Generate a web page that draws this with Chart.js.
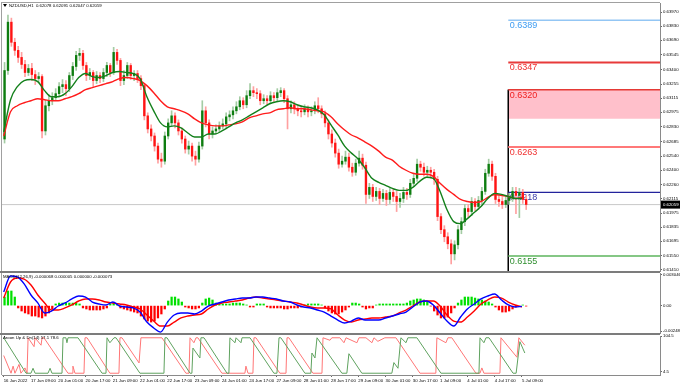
<!DOCTYPE html>
<html>
<head>
<meta charset="utf-8">
<script src="https://cdn.jsdelivr.net/npm/chart.js@4.4.1/dist/chart.umd.min.js"></script>
<style>
  html, body { margin: 0; padding: 0; background: #fff; }
  #wrap { position: relative; width: 680px; height: 385px; overflow: hidden; }
  canvas { position: absolute; left: 0; }
</style>
</head>
<body>
<div id="wrap">
  <canvas id="main" width="680" height="272" style="top:0px"></canvas>
  <canvas id="macd" width="680" height="62" style="top:272px"></canvas>
  <canvas id="aroon" width="680" height="51" style="top:334px"></canvas>
</div>
<script>
// NZDUSD H1, one candle per two hours
const open = [0.6271,0.6339,0.6387,0.6367,0.6359,0.6352,0.6345,0.6337,0.6341,0.6335,
  0.6331,0.6333,0.6279,0.6304,0.6309,0.6312,0.6316,0.6323,0.6325,0.6321,
  0.6334,0.6343,0.6354,0.6356,0.6344,0.6334,0.6337,0.6329,0.6334,0.6331,
  0.6337,0.6344,0.6337,0.6357,0.6349,0.6329,0.6334,0.6344,0.6334,0.6336,
  0.6331,0.6324,0.6294,0.6281,0.6274,0.6264,0.6251,0.6249,0.6274,0.6287,
  0.6294,0.6287,0.6279,0.6271,0.6261,0.6264,0.6254,0.6251,0.6264,0.6299,
  0.6287,0.6276,0.6279,0.6281,0.6284,0.6286,0.6293,0.6295,0.6299,0.6303,
  0.6309,0.6305,0.6314,0.6319,0.6317,0.6316,0.6309,0.6311,0.6309,0.6314,
  0.6312,0.6317,0.6319,0.6311,0.6301,0.6305,0.6301,0.6299,0.6298,0.6301,
  0.6298,0.6299,0.6304,0.6301,0.6296,0.6287,0.6276,0.6267,0.6257,0.6246,
  0.6249,0.6253,0.6243,0.6238,0.6247,0.6252,0.6245,0.6216,0.6223,0.6214,
  0.6219,0.6212,0.6217,0.6211,0.6218,0.6214,0.6209,0.6212,0.6218,0.6216,
  0.6227,0.6232,0.6246,0.6243,0.6238,0.6240,0.6238,0.6231,0.6194,0.6181,
  0.6174,0.6167,0.6157,0.6166,0.6181,0.6189,0.6202,0.6199,0.6209,0.6204,
  0.6210,0.6219,0.6237,0.6246,0.6234,0.6211,0.6209,0.6206,0.6210,0.6213,
  0.6219,0.6215,0.6218,0.6211];
const high = [0.6347,0.6394,0.6391,0.6371,0.6363,0.6357,0.6349,0.6345,0.6346,0.6339,
  0.6337,0.6335,0.6309,0.6315,0.6317,0.6321,0.6327,0.6330,0.6329,0.6337,
  0.6347,0.6358,0.6361,0.6359,0.6347,0.6341,0.6339,0.6338,0.6337,0.6341,
  0.6347,0.6346,0.6362,0.6360,0.6351,0.6339,0.6347,0.6346,0.6339,0.6339,
  0.6334,0.6326,0.6297,0.6285,0.6277,0.6267,0.6257,0.6278,0.6291,0.6299,
  0.6297,0.6290,0.6282,0.6274,0.6269,0.6267,0.6259,0.6268,0.6309,0.6303,
  0.6290,0.6283,0.6285,0.6288,0.6291,0.6297,0.6299,0.6303,0.6308,0.6313,
  0.6312,0.6319,0.6326,0.6323,0.6321,0.6319,0.6315,0.6314,0.6318,0.6317,
  0.6321,0.6322,0.6321,0.6314,0.6309,0.6308,0.6304,0.6303,0.6305,0.6304,
  0.6303,0.6308,0.6312,0.6304,0.6299,0.6290,0.6280,0.6271,0.6261,0.6254,
  0.6259,0.6257,0.6247,0.6251,0.6259,0.6256,0.6248,0.6227,0.6226,0.6223,
  0.6222,0.6221,0.6220,0.6222,0.6221,0.6219,0.6217,0.6223,0.6222,0.6231,
  0.6237,0.6251,0.6249,0.6247,0.6244,0.6243,0.6241,0.6234,0.6197,0.6185,
  0.6178,0.6171,0.6170,0.6185,0.6193,0.6206,0.6206,0.6213,0.6212,0.6214,
  0.6223,0.6241,0.6251,0.6249,0.6237,0.6215,0.6213,0.6214,0.6217,0.6223,
  0.6223,0.6222,0.6221,0.6215];
const low = [0.6267,0.6335,0.6363,0.6354,0.6347,0.6341,0.6333,0.6334,0.6329,0.6325,
  0.6327,0.6272,0.6275,0.6299,0.6305,0.6309,0.6313,0.6317,0.6314,0.6318,
  0.6330,0.6339,0.6349,0.6340,0.6329,0.6330,0.6323,0.6326,0.6327,0.6328,
  0.6333,0.6333,0.6335,0.6345,0.6324,0.6325,0.6331,0.6330,0.6329,0.6327,
  0.6320,0.6290,0.6277,0.6269,0.6259,0.6247,0.6243,0.6246,0.6271,0.6284,
  0.6282,0.6275,0.6267,0.6257,0.6256,0.6249,0.6245,0.6248,0.6261,0.6283,
  0.6271,0.6272,0.6276,0.6278,0.6281,0.6282,0.6289,0.6291,0.6296,0.6300,
  0.6301,0.6302,0.6311,0.6313,0.6311,0.6305,0.6306,0.6305,0.6306,0.6308,
  0.6309,0.6313,0.6307,0.6281,0.6297,0.6296,0.6294,0.6293,0.6295,0.6293,
  0.6294,0.6296,0.6297,0.6292,0.6283,0.6271,0.6263,0.6253,0.6242,0.6243,
  0.6246,0.6239,0.6234,0.6235,0.6244,0.6241,0.6207,0.6212,0.6209,0.6210,
  0.6206,0.6209,0.6205,0.6207,0.6209,0.6199,0.6203,0.6208,0.6211,0.6213,
  0.6224,0.6229,0.6239,0.6234,0.6233,0.6232,0.6226,0.6190,0.6177,0.6169,
  0.6162,0.6147,0.6151,0.6162,0.6177,0.6185,0.6194,0.6195,0.6200,0.6201,
  0.6206,0.6216,0.6234,0.6230,0.6207,0.6204,0.6202,0.6203,0.6206,0.6209,
  0.6197,0.6193,0.6207,0.6201];
const close = [0.6339,0.6387,0.6367,0.6359,0.6352,0.6345,0.6337,0.6341,0.6335,0.6331,
  0.6333,0.6279,0.6304,0.6309,0.6312,0.6316,0.6323,0.6325,0.6321,0.6334,
  0.6343,0.6354,0.6356,0.6344,0.6334,0.6337,0.6329,0.6334,0.6331,0.6337,
  0.6344,0.6337,0.6357,0.6349,0.6329,0.6334,0.6344,0.6334,0.6336,0.6331,
  0.6324,0.6294,0.6281,0.6274,0.6264,0.6251,0.6249,0.6274,0.6287,0.6294,
  0.6287,0.6279,0.6271,0.6261,0.6264,0.6254,0.6251,0.6264,0.6299,0.6287,
  0.6276,0.6279,0.6281,0.6284,0.6286,0.6293,0.6295,0.6299,0.6303,0.6309,
  0.6305,0.6314,0.6319,0.6317,0.6316,0.6309,0.6311,0.6309,0.6314,0.6312,
  0.6317,0.6319,0.6311,0.6301,0.6305,0.6301,0.6299,0.6298,0.6301,0.6298,
  0.6299,0.6304,0.6301,0.6296,0.6287,0.6276,0.6267,0.6257,0.6246,0.6249,
  0.6253,0.6243,0.6238,0.6247,0.6252,0.6245,0.6216,0.6223,0.6214,0.6219,
  0.6212,0.6217,0.6211,0.6218,0.6214,0.6209,0.6212,0.6218,0.6216,0.6227,
  0.6232,0.6246,0.6243,0.6238,0.6240,0.6238,0.6231,0.6194,0.6181,0.6174,
  0.6167,0.6157,0.6166,0.6181,0.6189,0.6202,0.6199,0.6209,0.6204,0.6210,
  0.6219,0.6237,0.6246,0.6234,0.6211,0.6209,0.6206,0.6210,0.6213,0.6219,
  0.6215,0.6218,0.6211,0.6206];

// moving averages, one value every 4 bars
const maFast = [0.6278,0.6310,0.6323,0.6329,0.6330,0.6328,0.6319,0.6313,0.6313,0.6316,
  0.6323,0.6332,0.6336,0.6333,0.6332,0.6334,0.6337,0.6338,0.6337,0.6336,
  0.6331,0.6313,0.6299,0.6287,0.6283,0.6284,0.6282,0.6277,0.6273,0.6273,
  0.6276,0.6276,0.6279,0.6283,0.6287,0.6290,0.6294,0.6298,0.6302,0.6306,
  0.6308,0.6309,0.6308,0.6305,0.6303,0.6302,0.6300,0.6295,0.6285,0.6275,
  0.6264,0.6257,0.6251,0.6242,0.6232,0.6228,0.6225,0.6222,0.6220,0.6220,
  0.6223,0.6229,0.6233,0.6232,0.6219,0.6201,0.6189,0.6187,0.6192,0.6198,
  0.6204,0.6212,0.6217,0.6216,0.6214,0.6212,0.6212];
const maSlow = [0.6274,0.6298,0.6304,0.6307,0.6309,0.6311,0.6310,0.6309,0.6309,0.6311,
  0.6313,0.6316,0.6320,0.6322,0.6324,0.6326,0.6328,0.6331,0.6332,0.6331,
  0.6329,0.6324,0.6317,0.6309,0.6303,0.6301,0.6299,0.6296,0.6291,0.6287,
  0.6285,0.6284,0.6284,0.6285,0.6286,0.6288,0.6292,0.6294,0.6296,0.6297,
  0.6300,0.6301,0.6302,0.6301,0.6301,0.6300,0.6299,0.6298,0.6293,0.6286,
  0.6280,0.6275,0.6272,0.6268,0.6264,0.6259,0.6253,0.6250,0.6244,0.6240,
  0.6237,0.6236,0.6236,0.6234,0.6227,0.6221,0.6216,0.6211,0.6209,0.6208,
  0.6209,0.6213,0.6216,0.6215,0.6214,0.6212,0.6213];

// MACD(12,26,9): lines every 4 bars, histogram every 2 bars
const macdMain = [0.00133,0.00290,0.00280,0.00212,0.00104,0.00026,-0.00072,-0.00053,-0.00004,0.00026,
  0.00065,0.00094,0.00084,0.00035,0.00016,0.00006,0.00035,-0.00004,-0.00014,-0.00023,
  -0.00063,-0.00161,-0.00219,-0.00259,-0.00161,-0.00092,-0.00072,-0.00072,-0.00082,-0.00053,
  -0.00004,0.00016,0.00035,0.00055,0.00065,0.00074,0.00074,0.00084,0.00084,0.00074,
  0.00065,0.00045,0.00035,0.00006,-0.00014,-0.00023,-0.00043,-0.00063,-0.00102,-0.00141,
  -0.00170,-0.00151,-0.00121,-0.00141,-0.00141,-0.00141,-0.00121,-0.00102,-0.00082,-0.00063,
  -0.00014,0.00035,0.00045,0.00006,-0.00072,-0.00151,-0.00200,-0.00112,-0.00033,0.00016,
  0.00065,0.00094,0.00114,0.00055,0.00006,-0.00014,-0.00007];
const macdSignal = [0.00074,0.00231,0.00270,0.00260,0.00202,0.00104,0.00026,-0.00043,-0.00043,-0.00023,
  0.00006,0.00045,0.00065,0.00065,0.00055,0.00035,0.00026,0.00016,0.00006,-0.00014,
  -0.00033,-0.00092,-0.00151,-0.00200,-0.00200,-0.00161,-0.00121,-0.00102,-0.00092,-0.00082,
  -0.00033,0.00006,0.00026,0.00035,0.00045,0.00055,0.00074,0.00084,0.00074,0.00065,
  0.00055,0.00045,0.00035,0.00026,0.00006,-0.00014,-0.00023,-0.00023,-0.00033,-0.00092,
  -0.00141,-0.00161,-0.00141,-0.00131,-0.00121,-0.00121,-0.00112,-0.00102,-0.00072,-0.00043,
  -0.00004,0.00035,0.00045,0.00045,-0.00004,-0.00092,-0.00151,-0.00161,-0.00112,-0.00053,
  0.00016,0.00055,0.00084,0.00074,0.00035,0.00006,-0.00014];
const macdHist = [0.00084,0.00143,0.00143,0.00084,-0.00023,-0.00053,-0.00072,-0.00082,-0.00102,-0.00102,
  -0.00112,-0.00121,-0.00102,-0.00072,-0.00033,0.00016,0.00025,0.00025,0.00025,0.00025,
  0.00025,0.00025,0.00016,-0.00023,-0.00033,-0.00043,-0.00043,-0.00043,-0.00043,-0.00033,
  -0.00023,0.00016,0.00025,0.00016,-0.00023,-0.00033,-0.00043,-0.00053,-0.00063,-0.00072,
  -0.00102,-0.00131,-0.00151,-0.00161,-0.00151,-0.00121,-0.00082,-0.00033,0.00045,0.00084,
  0.00084,0.00065,0.00035,-0.00014,-0.00023,-0.00033,-0.00033,-0.00023,0.00025,0.00065,
  0.00074,0.00055,0.00025,0.00016,0.00016,0.00016,0.00016,0.00025,0.00025,0.00025,
  0.00016,0.00006,-0.00014,-0.00014,0.00016,0.00016,0.00016,-0.00014,-0.00023,-0.00023,
  -0.00023,-0.00023,-0.00033,-0.00033,-0.00023,-0.00023,-0.00023,-0.00014,0.00006,0.00016,
  0.00016,0.00016,0.00016,0.00006,-0.00023,-0.00053,-0.00072,-0.00082,-0.00082,-0.00063,
  -0.00043,-0.00014,0.00025,0.00025,0.00016,-0.00014,-0.00033,-0.00023,-0.00023,0.00006,
  0.00016,0.00016,0.00016,0.00016,0.00016,0.00016,0.00016,0.00016,0.00025,0.00045,
  0.00055,0.00065,0.00065,0.00055,0.00035,-0.00004,-0.00053,-0.00092,-0.00121,-0.00121,
  -0.00112,-0.00072,-0.00023,0.00025,0.00055,0.00084,0.00084,0.00084,0.00074,0.00065,
  0.00055,0.00045,0.00035,0.00016,-0.00014,-0.00043,-0.00063,-0.00063,-0.00053,-0.00033,
  -0.00014,-0.00004,0.00006,-0.00004];

// Aroon(14) turning points: bar index and value
const aroonUpBar = [0,13.1,16.0,17.2,18.4,26.0,27.2,28.3,34.2,34.8,36.5,37.1,37.7,43.6,57.7,
  60.0,60.6,62.3,64.7,65.9,79.9,94.0,94.6,95.8,109.3,110.4,111.0,115.1,115.7,117.5,
  131.0,132.1,132.7,135.7,136.3,139.2,139.8,144.5,158.5,160.3,161.5,162.6,176.7,180.2,180.8,
  182.6,183.8,184.3,198.4,201.3,202.5,210.1,227.7,228.9,231.3,233.0,236.0,237.1,242.4,256.5,
  278.8,279.4,281.7,282.9,284.7,298.8,300.6,302.8,305.7];
const aroonUp = [100,0,0,14,0,0,14,0,0,100,100,86,100,100,0,
  0,100,86,100,100,0,0,100,100,0,0,71,43,100,100,
  0,0,100,86,100,86,100,100,0,0,100,100,0,0,57,
  43,100,100,0,0,55,0,0,30,14,100,86,100,100,0,
  0,100,86,100,100,0,0,89,57];
const aroonDnBar = [0,4.3,5.5,6.6,9.0,10.1,12.5,13.7,14.3,17.8,18.4,21.9,22.5,23.6,37.7,
  40.1,40.6,41.8,47.1,47.7,48.9,62.3,67.6,68.2,69.4,79.4,80.5,92.8,106.9,108.7,
  109.3,111.6,112.8,113.9,128.0,141.5,142.1,143.3,146.2,146.8,148.0,162.0,165.6,166.2,167.3,
  181.4,186.7,187.3,191.4,192.5,197.2,199.6,200.8,207.2,208.4,212.5,216.0,217.2,219.5,223.6,
  230.1,244.2,253.5,254.1,259.4,260.6,262.9,277.0,279.4,280.5,281.7,291.1,291.7,301.1,302.2,305.7];
const aroonDn = [50,0,20,0,25,0,15,0,100,75,100,79,100,100,0,
  0,20,0,0,100,100,0,0,100,100,29,100,100,0,0,
  100,86,100,100,0,0,20,0,0,100,100,0,0,100,100,
  0,0,100,93,100,100,86,100,86,100,100,86,100,90,100,
  100,0,0,100,86,100,100,0,0,15,0,0,100,45,100,79];

// levels drawn from 3 Jul
const levelStart = 296;
const levelValues = [0.6389, 0.6347, 0.6320, 0.6263, 0.6218, 0.6155];
const zoneLow = 0.6291;
const lastPrice = 0.62059;

// axes
const timeTicks = [0,16,32,48,64,80,96,112,128,144,160,176,192,208,224,240,256,272,288,304];
const timeLabels = ['16 Jun 2022','17 Jun 09:00','20 Jun 01:00','20 Jun 17:00','21 Jun 09:00',
  '22 Jun 01:00','22 Jun 17:00','23 Jun 09:00','24 Jun 01:00','24 Jun 17:00','27 Jun 09:00',
  '28 Jun 01:00','28 Jun 17:00','29 Jun 09:00','30 Jun 01:00','30 Jun 17:00','1 Jul 09:00',
  '4 Jul 01:00','4 Jul 17:00','5 Jul 09:00'];
const priceTicks = [0.63970,0.63830,0.63690,0.63545,0.63400,0.63255,0.63115,0.62975,0.62830,
  0.62685,0.62540,0.62400,0.62260,0.62115,0.61975,0.61835,0.61695,0.61550,0.61410];
const macdTicks = [0.003046, 0, -0.002486];
const macdTickLabels = ['0.003046', '0.00', '-0.002486'];
const aroonTicks = [104.5, 4.5];

const levelLineColors = ['#93c6f4', '#e83a3a', '#e53935', '#ff7878', '#23239c', '#5cb45c'];
const levelTextColors = ['#3d9cf2', '#f02a2a', '#f02020', '#f02f2f', '#3a3aa8', '#2f8f2f'];
const levelWidths = [1.5, 2, 1.5, 2, 1.3, 1.5];

Chart.defaults.font.family = '"Liberation Sans", Arial, sans-serif';
Chart.defaults.color = '#000';

const candleBar = open.map((o, k) => 2 * k + 0.5);
const sampleBar = maFast.map((v, i) => i * 4);
const isUp = open.map((o, k) => close[k] >= o);

function hiddenX() {
  return { type: 'linear', min: -1, max: 385, offset: false, display: false };
}

function rightAxis(min, max, ticks, fmt) {
  return {
    position: 'right', min: min, max: max,
    afterFit(s) { s.width = 20; s.paddingTop = 0; s.paddingBottom = 0; },
    afterBuildTicks(s) { s.ticks = ticks.map(v => ({ value: v })); },
    ticks: { callback: fmt, font: { size: 4.3 }, color: '#000', padding: 1, autoSkip: false },
    grid: { display: true, drawOnChartArea: false, drawTicks: true, tickLength: 2, color: '#666' },
    border: { display: true, color: '#8a8a8a' }
  };
}

const frame = {
  id: 'frame',
  afterDraw(chart, args, o) {
    const ctx = chart.ctx, a = chart.chartArea;
    ctx.save();
    ctx.fillStyle = '#a0a0a0';
    ctx.fillRect(1, o.top ? a.top - 1 : 0, 1, a.bottom - (o.top ? a.top - 1 : 0));
    if (o.top) ctx.fillRect(1, a.top - 1, a.right - 1, 1);
    ctx.fillStyle = '#7c7c7c';
    if (o.sepTop) ctx.fillRect(0, 0, a.right, 1);
    if (o.sepBottom) ctx.fillRect(0, chart.height - 1, a.right, 1);
    ctx.restore();
  }
};

const header = {
  id: 'header',
  afterDraw(chart, args, o) {
    const ctx = chart.ctx;
    ctx.save();
    ctx.font = '4.3px "Liberation Sans"';
    ctx.fillStyle = '#000';
    ctx.textBaseline = 'middle';
    ctx.fillText(o.text, o.x, o.y);
    ctx.restore();
  }
};

const levelLabels = {
  id: 'levelLabels',
  beforeDatasetsDraw(chart) {
    const ctx = chart.ctx, x = chart.scales.x, y = chart.scales.y;
    ctx.save();
    ctx.font = '9px "Liberation Sans"';
    ctx.textBaseline = 'alphabetic';
    levelValues.forEach((v, i) => {
      ctx.fillStyle = levelTextColors[i];
      ctx.fillText(v.toFixed(4), x.getPixelForValue(levelStart) + 1.5, y.getPixelForValue(v) + 8);
    });
    ctx.restore();
  },
  afterDraw(chart) {
    const ctx = chart.ctx, a = chart.chartArea, y = chart.scales.y;
    const py = y.getPixelForValue(lastPrice);
    ctx.save();
    // small chart icon before the symbol name
    ctx.fillStyle = '#000';
    ctx.beginPath();
    ctx.moveTo(3, 4); ctx.lineTo(7, 4); ctx.lineTo(5, 7); ctx.closePath();
    ctx.fill();
    ctx.fillRect(a.right + 1, py - 4, 19, 8);
    ctx.fillStyle = '#fff';
    ctx.font = '4.3px "Liberation Sans"';
    ctx.textBaseline = 'middle';
    ctx.fillText(lastPrice.toFixed(5), a.right + 3, py);
    ctx.restore();
  }
};

const common = {
  responsive: false, animation: false, devicePixelRatio: 1, events: []
};

const levelSets = levelValues.map((v, i) => ({
  type: 'line', data: [{ x: levelStart, y: v }, { x: 385, y: v }],
  borderColor: levelLineColors[i], borderWidth: levelWidths[i], pointRadius: 0, order: 4
}));

new Chart(document.getElementById('main'), {
  type: 'bar',
  data: {
    datasets: [
      { type: 'line', data: sampleBar.map((t, i) => ({ x: t, y: maFast[i] })), borderColor: '#13801b',
        borderWidth: 1.4, pointRadius: 0, cubicInterpolationMode: 'monotone', order: 0 },
      { type: 'line', data: sampleBar.map((t, i) => ({ x: t, y: maSlow[i] })), borderColor: '#ff1c1c',
        borderWidth: 1.4, pointRadius: 0, cubicInterpolationMode: 'monotone', order: 1 },
      { data: candleBar.map((t, k) => ({ x: t, y: [open[k], close[k]] })),
        backgroundColor: isUp.map(u => u ? '#0e7d10' : '#ff1414'),
        barThickness: 1.7, minBarLength: 1, grouped: false, order: 2 },
      { data: candleBar.map((t, k) => ({ x: t, y: [low[k], high[k]] })),
        backgroundColor: isUp.map(u => u ? '#a4cca4' : '#ffa0a0'),
        barThickness: 1, grouped: false, order: 3 },
      ...levelSets,
      { type: 'line', data: [{ x: levelStart, y: levelValues[2] }, { x: levelStart, y: 0.6140 }],
        borderColor: '#000', borderWidth: 1, pointRadius: 0, order: 4 },
      { type: 'line', data: [{ x: levelStart, y: zoneLow }, { x: 385, y: zoneLow }],
        fill: { value: levelValues[2] }, backgroundColor: '#ffc0cb',
        borderColor: 'rgba(0,0,0,0)', borderWidth: 0, pointRadius: 0, order: 5 },
      { type: 'line', data: [{ x: -1, y: lastPrice }, { x: 385, y: lastPrice }],
        borderColor: '#c8c8c8', borderWidth: 1, pointRadius: 0, order: 6 }
    ]
  },
  options: Object.assign({}, common, {
    layout: { padding: { left: 2, top: 3, right: 0, bottom: 1 } },
    plugins: {
      legend: { display: false }, tooltip: { enabled: false },
      filler: { drawTime: 'beforeDatasetsDraw' },
      frame: { top: true, sepBottom: true },
      header: { text: 'NZDUSD,H1  0.62078 0.62091 0.62047 0.62059', x: 9, y: 5.5 }
    },
    scales: {
      x: hiddenX(),
      y: rightAxis(0.6140, 0.6406, priceTicks, v => v.toFixed(5))
    }
  }),
  plugins: [frame, header, levelLabels]
});

new Chart(document.getElementById('macd'), {
  type: 'bar',
  data: {
    datasets: [
      { type: 'line', data: sampleBar.map((t, i) => ({ x: t, y: macdMain[i] })), borderColor: '#0000ff',
        borderWidth: 1.4, pointRadius: 0, cubicInterpolationMode: 'monotone', order: 0 },
      { type: 'line', data: sampleBar.map((t, i) => ({ x: t, y: macdSignal[i] })), borderColor: '#ff0000',
        borderWidth: 1.4, pointRadius: 0, cubicInterpolationMode: 'monotone', order: 1 },
      { data: candleBar.map((t, k) => ({ x: t, y: macdHist[k] })),
        backgroundColor: macdHist.map(v => v >= 0 ? '#00e000' : '#ff0000'),
        barThickness: 1.6, grouped: false, order: 2 }
    ]
  },
  options: Object.assign({}, common, {
    layout: { padding: { left: 2, top: 1, right: 0, bottom: 1 } },
    plugins: {
      legend: { display: false }, tooltip: { enabled: false },
      frame: { sepTop: true, sepBottom: true },
      header: { text: 'MACD(12,26,9) -0.000068 0.000005 0.000000 -0.000073', x: 3, y: 4.5 }
    },
    scales: {
      x: hiddenX(),
      y: rightAxis(-0.00268, 0.00319, macdTicks, (v, i) => macdTickLabels[i])
    }
  }),
  plugins: [frame, header]
});

new Chart(document.getElementById('aroon'), {
  type: 'line',
  data: {
    datasets: [
      { data: aroonUpBar.map((t, i) => ({ x: t, y: aroonUp[i] })), borderColor: '#5fa25f',
        borderWidth: 1, pointRadius: 0, tension: 0 },
      { data: aroonDnBar.map((t, i) => ({ x: t, y: aroonDn[i] })), borderColor: '#ff7676',
        borderWidth: 1, pointRadius: 0, tension: 0 }
    ]
  },
  options: Object.assign({}, common, {
    layout: { padding: { left: 2, top: 2, right: 0, bottom: 1 } },
    plugins: {
      legend: { display: false }, tooltip: { enabled: false },
      frame: { sepTop: true },
      header: { text: 'Aroon Up & Dn(14) 57.1 78.6', x: 3, y: 4 }
    },
    scales: {
      x: {
        type: 'linear', min: -1, max: 385, offset: false,
        afterFit(s) { s.height = 9; s.paddingLeft = 0; s.paddingRight = 0; },
        afterBuildTicks(s) { s.ticks = timeTicks.map(v => ({ value: v })); },
        ticks: { callback: (v, i) => timeLabels[i], font: { size: 4.3 }, color: '#000',
          align: 'start', maxRotation: 0, autoSkip: false, padding: 1 },
        grid: { display: true, drawOnChartArea: false, drawTicks: true, tickLength: 2, color: '#666' },
        border: { display: true, color: '#8a8a8a' }
      },
      y: rightAxis(-5, 105, aroonTicks, v => v.toFixed(1))
    }
  }),
  plugins: [frame, header]
});
</script>
</body>
</html>
